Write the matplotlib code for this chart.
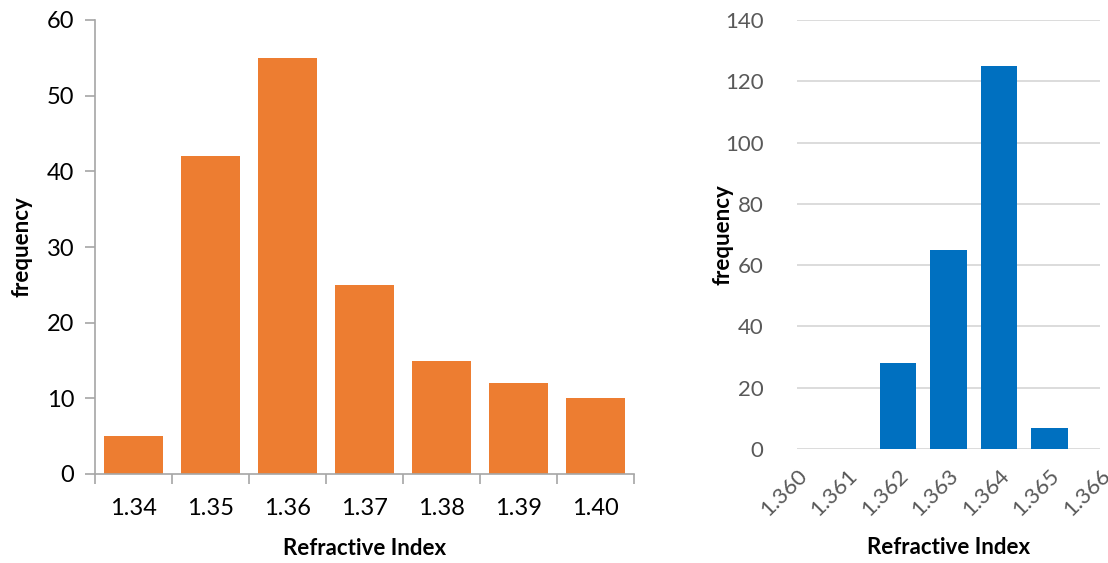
import numpy as np
import matplotlib
matplotlib.use("Agg")
from matplotlib import pyplot as plt

plt.rcParams['font.family'] = ['Lato', 'DejaVu Sans']

# left panel: histogram of refractive index (orange)
left_labels = ['1.34', '1.35', '1.36', '1.37', '1.38', '1.39', '1.40']
left_counts = [5, 42, 55, 25, 15, 12, 10]

# right panel: finer bins (blue)
right_centers = [1.362, 1.363, 1.364, 1.365]
right_counts = [28, 65, 125, 7]
right_ticks = [1.360, 1.361, 1.362, 1.363, 1.364, 1.365, 1.366]

W, H = 1108, 563
fig = plt.figure(figsize=(W / 100, H / 100), dpi=100)

def box(x0, x1, ytop, ybot):
    return [x0 / W, 1 - ybot / H, (x1 - x0) / W, (ybot - ytop) / H]

spine_col = '#a6a6a6'

# ---- left chart
ax1 = fig.add_axes(box(95, 634, 20, 474))
x = np.arange(len(left_counts))
ax1.bar(x, left_counts, width=0.77, color='#ed7d31')
ax1.set_xlim(-0.5, len(left_counts) - 0.5)
ax1.set_ylim(0, 60)
ax1.set_yticks(range(0, 61, 10))
ax1.set_xticks(x)
ax1.set_xticklabels(left_labels)
ax1.set_xticks(np.arange(-0.5, len(left_counts)), minor=True)
ax1.tick_params(axis='x', which='major', length=0, pad=17, labelsize=17)
ax1.tick_params(axis='x', which='minor', length=7, color=spine_col, width=1.2)
ax1.tick_params(axis='y', length=7, color=spine_col, width=1.2, labelsize=17, pad=8)
for s in ['top', 'right']:
    ax1.spines[s].set_visible(False)
for s in ['left', 'bottom']:
    ax1.spines[s].set_color(spine_col)
    ax1.spines[s].set_linewidth(1.2)
ax1.set_xlabel('Refractive Index', fontsize=16, fontweight='bold', labelpad=14)
ax1.set_ylabel('frequency', fontsize=16, fontweight='bold', labelpad=10)

# ---- right chart
grey_txt = '#595959'
ax2 = fig.add_axes(box(797, 1100, 20, 449))
ax2.bar(right_centers, right_counts, width=0.00073, color='#0070c0', zorder=3)
ax2.set_xlim(1.360, 1.366)
ax2.set_ylim(0, 140)
ax2.set_yticks(range(0, 141, 20))
ax2.yaxis.grid(True, color='#d9d9d9', linewidth=1.3, zorder=0)
ax2.set_xticks(right_ticks)
ax2.set_xticklabels(['%.3f' % t for t in right_ticks], rotation=45,
                    ha='right', rotation_mode='anchor')
ax2.tick_params(axis='x', length=0, labelsize=16, labelcolor=grey_txt, pad=12)
ax2.tick_params(axis='y', length=0, labelsize=16, labelcolor=grey_txt, pad=24)
for s in ax2.spines.values():
    s.set_visible(False)
ax2.set_xlabel('Refractive Index', fontsize=16, fontweight='bold', labelpad=12)
ax2.set_ylabel('frequency', fontsize=16, fontweight='bold', labelpad=-6)

fig.savefig('out.png', dpi=100)
